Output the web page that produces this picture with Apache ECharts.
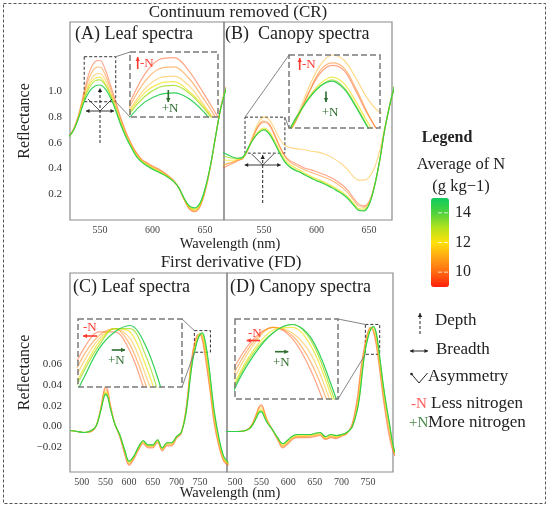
<!DOCTYPE html>
<html>
<head>
<meta charset="utf-8">
<script src="https://cdn.jsdelivr.net/npm/echarts@6/dist/echarts.min.js"></script>
<style>
  html, body { margin: 0; padding: 0; background: #fff; }
  #main { width: 550px; height: 507px; }
</style>
</head>
<body>
<div id="main"></div>
<script>
// average leaf N (g kg-1) of each drawn spectrum, low -> high
const N_LEVELS = [9.6, 10.4, 11.2, 12.2, 13.2, 14.6]

// continuum removed, wavelengths (nm)
const WL_CR = [510, 515, 520, 525, 530, 535, 540, 545, 550, 555, 560, 565, 570, 575, 580, 585, 590,
  595, 600, 605, 610, 615, 620, 625, 630, 635, 640, 645, 650, 655, 660, 665, 670, 675]

// (A) leaf spectra, CR
const A_N96 = [0.61, 0.62, 0.645, 0.71, 0.83, 1.00, 1.15, 1.23, 1.24, 1.17, 1.05, 0.92, 0.79, 0.68, 0.59, 0.52, 0.47,
  0.445, 0.42, 0.40, 0.375, 0.345, 0.31, 0.25, 0.16, 0.085, 0.065, 0.10, 0.22, 0.41, 0.65, 0.88, 1.03, 1.13]
const A_N104 = [0.61, 0.62, 0.645, 0.71, 0.82, 0.98, 1.11, 1.18, 1.19, 1.13, 1.02, 0.90, 0.78, 0.67, 0.585, 0.515, 0.465,
  0.44, 0.415, 0.395, 0.37, 0.34, 0.305, 0.25, 0.16, 0.09, 0.07, 0.105, 0.225, 0.41, 0.65, 0.88, 1.03, 1.13]
const A_N112 = [0.61, 0.62, 0.645, 0.70, 0.82, 0.96, 1.07, 1.13, 1.14, 1.09, 0.99, 0.88, 0.76, 0.66, 0.575, 0.505, 0.46,
  0.435, 0.41, 0.39, 0.365, 0.338, 0.305, 0.25, 0.165, 0.095, 0.075, 0.11, 0.23, 0.415, 0.65, 0.875, 1.025, 1.125]
const A_N122 = [0.61, 0.62, 0.645, 0.70, 0.81, 0.95, 1.05, 1.10, 1.11, 1.06, 0.98, 0.87, 0.75, 0.65, 0.57, 0.50, 0.455,
  0.43, 0.405, 0.385, 0.36, 0.335, 0.302, 0.25, 0.165, 0.10, 0.08, 0.115, 0.235, 0.415, 0.65, 0.875, 1.02, 1.12]
const A_N132 = [0.61, 0.62, 0.645, 0.70, 0.805, 0.94, 1.03, 1.08, 1.09, 1.05, 0.97, 0.865, 0.745, 0.645, 0.565, 0.495, 0.452,
  0.425, 0.40, 0.38, 0.358, 0.332, 0.30, 0.25, 0.168, 0.105, 0.088, 0.122, 0.24, 0.42, 0.65, 0.87, 1.02, 1.12]
const A_N146 = [0.61, 0.62, 0.645, 0.70, 0.80, 0.92, 1.00, 1.04, 1.05, 1.02, 0.95, 0.85, 0.735, 0.64, 0.56, 0.49, 0.448,
  0.42, 0.395, 0.375, 0.355, 0.33, 0.30, 0.25, 0.17, 0.11, 0.095, 0.13, 0.245, 0.42, 0.65, 0.87, 1.02, 1.12]

// (B) canopy spectra, CR
const B_N96 = [0.40, 0.42, 0.44, 0.46, 0.48, 0.55, 0.65, 0.73, 0.76, 0.74, 0.66, 0.57, 0.50, 0.46, 0.44, 0.42, 0.40,
  0.39, 0.375, 0.36, 0.345, 0.325, 0.30, 0.27, 0.23, 0.175, 0.125, 0.11, 0.14, 0.26, 0.45, 0.70, 0.90, 1.06]
const B_N104 = [0.42, 0.435, 0.45, 0.465, 0.48, 0.55, 0.65, 0.74, 0.77, 0.75, 0.67, 0.575, 0.495, 0.45, 0.425, 0.405, 0.385,
  0.37, 0.355, 0.34, 0.325, 0.305, 0.28, 0.25, 0.21, 0.16, 0.11, 0.10, 0.13, 0.255, 0.45, 0.70, 0.90, 1.06]
const B_N112 = [0.43, 0.44, 0.45, 0.47, 0.49, 0.56, 0.67, 0.76, 0.80, 0.78, 0.71, 0.63, 0.58, 0.565, 0.555, 0.55, 0.545,
  0.535, 0.53, 0.52, 0.505, 0.485, 0.46, 0.43, 0.39, 0.34, 0.31, 0.31, 0.33, 0.40, 0.53, 0.72, 0.90, 1.05]
const B_N122 = [0.47, 0.465, 0.465, 0.47, 0.485, 0.555, 0.635, 0.69, 0.715, 0.69, 0.62, 0.54, 0.47, 0.43, 0.405, 0.385, 0.36,
  0.34, 0.32, 0.305, 0.285, 0.265, 0.24, 0.215, 0.18, 0.135, 0.09, 0.085, 0.125, 0.255, 0.45, 0.70, 0.90, 1.06]
const B_N132 = [0.50, 0.49, 0.48, 0.48, 0.485, 0.555, 0.63, 0.68, 0.705, 0.675, 0.605, 0.525, 0.455, 0.415, 0.39, 0.372, 0.35,
  0.33, 0.31, 0.295, 0.275, 0.255, 0.23, 0.205, 0.17, 0.125, 0.08, 0.075, 0.12, 0.25, 0.45, 0.70, 0.90, 1.06]
const B_N146 = [0.53, 0.51, 0.49, 0.48, 0.49, 0.56, 0.63, 0.68, 0.70, 0.67, 0.60, 0.52, 0.45, 0.41, 0.385, 0.37, 0.345,
  0.325, 0.305, 0.29, 0.27, 0.25, 0.225, 0.20, 0.165, 0.12, 0.075, 0.07, 0.115, 0.25, 0.45, 0.70, 0.90, 1.06]

// first derivative, wavelengths (nm)
const WL_FD = [475, 490, 505, 520, 530, 540, 545, 550, 555, 560, 570, 580, 590, 600, 610, 620, 630, 640, 650, 660,
  670, 680, 690, 700, 710, 720, 730, 735, 740, 745, 750, 755, 760, 765, 770, 780, 790, 800, 810]

// (C) leaf spectra, FD
const C_N96 = [-0.004, -0.005, -0.006, -0.005, 0.000, 0.018, 0.031, 0.039, 0.035, 0.022, 0.002, -0.010, -0.026, -0.038, -0.032,
  -0.023, -0.017, -0.021, -0.021, -0.016, -0.024, -0.019, -0.019, -0.012, -0.007, 0.016, 0.058, 0.074, 0.084, 0.089,
  0.089, 0.083, 0.070, 0.054, 0.038, 0.002, -0.020, -0.034, -0.038]
const C_N104 = [-0.004, -0.005, -0.006, -0.005, 0.000, 0.017, 0.029, 0.037, 0.033, 0.021, 0.002, -0.009, -0.025, -0.037, -0.031,
  -0.022, -0.016, -0.020, -0.020, -0.015, -0.023, -0.018, -0.018, -0.011, -0.007, 0.015, 0.056, 0.072, 0.082, 0.088,
  0.090, 0.085, 0.073, 0.058, 0.041, 0.005, -0.018, -0.033, -0.037]
const C_N112 = [-0.004, -0.005, -0.006, -0.005, 0.000, 0.016, 0.027, 0.035, 0.031, 0.020, 0.002, -0.009, -0.024, -0.036, -0.030,
  -0.021, -0.015, -0.019, -0.019, -0.014, -0.022, -0.017, -0.017, -0.011, -0.006, 0.014, 0.054, 0.070, 0.080, 0.087,
  0.090, 0.087, 0.076, 0.062, 0.045, 0.008, -0.016, -0.032, -0.037]
const C_N122 = [-0.004, -0.005, -0.006, -0.004, 0.000, 0.016, 0.026, 0.033, 0.030, 0.019, 0.002, -0.008, -0.023, -0.035, -0.030,
  -0.021, -0.015, -0.019, -0.019, -0.014, -0.022, -0.017, -0.017, -0.010, -0.006, 0.013, 0.052, 0.068, 0.078, 0.086,
  0.090, 0.089, 0.079, 0.065, 0.048, 0.010, -0.014, -0.031, -0.036]
const C_N132 = [-0.004, -0.005, -0.006, -0.004, 0.000, 0.015, 0.025, 0.032, 0.029, 0.018, 0.002, -0.008, -0.022, -0.034, -0.029,
  -0.020, -0.014, -0.018, -0.018, -0.013, -0.021, -0.016, -0.016, -0.010, -0.006, 0.012, 0.051, 0.067, 0.077, 0.085,
  0.090, 0.090, 0.082, 0.068, 0.051, 0.013, -0.013, -0.030, -0.036]
const C_N146 = [-0.004, -0.005, -0.006, -0.004, 0.000, 0.015, 0.025, 0.031, 0.028, 0.018, 0.002, -0.008, -0.022, -0.034, -0.029,
  -0.020, -0.014, -0.018, -0.018, -0.013, -0.021, -0.016, -0.016, -0.010, -0.006, 0.012, 0.049, 0.065, 0.075, 0.084,
  0.089, 0.091, 0.085, 0.072, 0.055, 0.015, -0.011, -0.029, -0.035]

// (D) canopy spectra, FD
const D_N96 = [-0.005, -0.005, -0.005, -0.004, 0.000, 0.012, 0.019, 0.021, 0.015, 0.007, -0.003, -0.013, -0.021, -0.017, -0.012,
  -0.011, -0.011, -0.011, -0.010, -0.009, -0.013, -0.011, -0.012, -0.010, -0.007, 0.002, 0.028, 0.050, 0.068, 0.082,
  0.092, 0.096, 0.092, 0.080, 0.062, 0.022, -0.010, -0.028, -0.032]
const D_N104 = [-0.005, -0.005, -0.005, -0.004, 0.000, 0.011, 0.018, 0.020, 0.014, 0.006, -0.003, -0.012, -0.020, -0.016, -0.011,
  -0.010, -0.010, -0.010, -0.009, -0.008, -0.012, -0.010, -0.011, -0.009, -0.007, 0.001, 0.025, 0.046, 0.065, 0.080,
  0.091, 0.096, 0.093, 0.083, 0.066, 0.026, -0.006, -0.027, -0.031]
const D_N112 = [-0.005, -0.005, -0.005, -0.004, 0.000, 0.010, 0.017, 0.018, 0.013, 0.006, -0.003, -0.012, -0.019, -0.015, -0.011,
  -0.010, -0.010, -0.009, -0.009, -0.008, -0.012, -0.010, -0.010, -0.009, -0.007, 0.000, 0.022, 0.041, 0.062, 0.078,
  0.090, 0.096, 0.094, 0.086, 0.069, 0.029, -0.002, -0.026, -0.031]
const D_N122 = [-0.005, -0.005, -0.005, -0.004, -0.001, 0.009, 0.015, 0.016, 0.011, 0.005, -0.003, -0.011, -0.018, -0.014, -0.010,
  -0.009, -0.009, -0.009, -0.008, -0.007, -0.011, -0.009, -0.010, -0.009, -0.006, -0.001, 0.019, 0.036, 0.059, 0.076,
  0.088, 0.095, 0.096, 0.089, 0.072, 0.032, 0.001, -0.025, -0.030]
const D_N132 = [-0.005, -0.005, -0.005, -0.004, -0.001, 0.008, 0.014, 0.015, 0.010, 0.004, -0.003, -0.011, -0.017, -0.013, -0.009,
  -0.008, -0.008, -0.008, -0.007, -0.006, -0.010, -0.008, -0.009, -0.008, -0.006, -0.001, 0.017, 0.033, 0.057, 0.075,
  0.087, 0.094, 0.097, 0.091, 0.074, 0.034, 0.003, -0.024, -0.030]
const D_N146 = [-0.005, -0.005, -0.005, -0.004, -0.001, 0.008, 0.013, 0.014, 0.009, 0.004, -0.003, -0.011, -0.017, -0.013, -0.009,
  -0.008, -0.008, -0.008, -0.007, -0.006, -0.010, -0.008, -0.009, -0.008, -0.006, -0.001, 0.016, 0.032, 0.055, 0.074,
  0.086, 0.094, 0.097, 0.092, 0.076, 0.036, 0.004, -0.024, -0.030]

// tick labels
const CR_X_TICKS = [550, 600, 650]
const CR_Y_TICKS = [0.2, 0.4, 0.6, 0.8, 1.0]
const FD_X_TICKS = [500, 550, 600, 650, 700, 750]
const FD_Y_TICKS = [-0.02, 0, 0.02, 0.04, 0.06]
const BAR_TICKS = [14, 12, 10]

const FONT = '"Liberation Serif", "DejaVu Serif", serif'
const N_MIN = 9, N_MAX = 15
const N_COLORS = ['#ff1e0a', '#ff6a12', '#ffa514', '#ffe10a', '#b4e21e', '#4fd13c', '#0dcc5e']
const LINE_OPACITY = [0.5, 0.55, 0.5, 0.7, 0.8, 0.95]
const nColor = n => echarts.color.lerp((n - N_MIN) / (N_MAX - N_MIN), N_COLORS)

// panel layout: main grid, inset grid, axis ranges, zoom window [x1, x2, y1, y2]
const panels = [
  { grid: { left: 70, top: 22, width: 154, height: 198 }, x: [521.5, 668], y: [0, 1.54],
    inset: { left: 130, top: 52, width: 88, height: 65 }, zoom: [535, 565, 0.92, 1.27],
    wl: WL_CR, lines: [A_N96, A_N104, A_N112, A_N122, A_N132, A_N146], links: [['tr', 'tl'], ['br', 'bl']] },
  { grid: { left: 224, top: 22, width: 168, height: 198 }, x: [512, 672], y: [0, 1.54],
    inset: { left: 289, top: 55, width: 91, height: 73 }, zoom: [532, 570, 0.52, 0.80],
    wl: WL_CR, lines: [B_N96, B_N104, B_N112, B_N122, B_N132, B_N146], links: [['tl', 'tl'], ['tr', 'bl']] },
  { grid: { left: 70, top: 273, width: 157, height: 199 }, x: [475, 807], y: [-0.0444, 0.149],
    inset: { left: 78, top: 319, width: 104, height: 68 }, zoom: [738, 772, 0.072, 0.093],
    wl: WL_FD, lines: [C_N96, C_N104, C_N112, C_N122, C_N132, C_N146], links: [['tl', 'tr'], ['bl', 'br']] },
  { grid: { left: 227, top: 273, width: 166, height: 199 }, x: [485, 797], y: [-0.0444, 0.149],
    inset: { left: 235, top: 319, width: 103, height: 80 }, zoom: [745, 772, 0.070, 0.099],
    wl: WL_FD, lines: [D_N96, D_N104, D_N112, D_N122, D_N132, D_N146], links: [['tl', 'tr'], ['bl', 'br']] }
]

const grids = [], xAxes = [], yAxes = [], series = []

const lineSeries = (p, ys, li, axis, z, width) => ({
  type: 'line', xAxisIndex: axis, yAxisIndex: axis, z, silent: true, clip: true,
  data: p.wl.map((w, j) => [w, ys[j]]),
  showSymbol: false, smooth: 0.35,
  itemStyle: { color: nColor(N_LEVELS[li]) },
  lineStyle: { width, opacity: LINE_OPACITY[li], color: nColor(N_LEVELS[li]) }
})

panels.forEach((p, pi) => {
  grids.push(Object.assign({ show: true, borderColor: '#8c8c8c', borderWidth: 1.2, z: 1 }, p.grid))
  const isCR = pi < 2
  xAxes.push({
    type: 'value', gridIndex: pi, min: p.x[0], max: p.x[1],
    axisLine: { show: false }, axisTick: { show: false }, splitLine: { show: false },
    axisLabel: { customValues: isCR ? CR_X_TICKS : FD_X_TICKS, fontFamily: FONT, fontSize: 10, color: '#444', margin: 5 }
  })
  const showY = pi === 0 || pi === 2
  yAxes.push({
    type: 'value', gridIndex: pi, min: p.y[0], max: p.y[1],
    axisLine: { show: false }, axisTick: { show: false }, splitLine: { show: false },
    name: showY ? 'Reflectance' : '', nameLocation: 'middle', nameGap: 37,
    nameTextStyle: { fontFamily: FONT, fontSize: 16, color: '#222' },
    axisLabel: {
      show: showY, customValues: isCR ? CR_Y_TICKS : FD_Y_TICKS, fontFamily: FONT, fontSize: 11, color: '#333', margin: 8,
      formatter: v => isCR ? v.toFixed(1) : (v < 0 ? '\u2212' + Math.abs(v).toFixed(2) : v.toFixed(2))
    }
  })
  p.lines.forEach((ys, li) => {
    const s = lineSeries(p, ys, li, pi, 3, 1.1)
    if (li === 0) {
      s.markArea = {
        silent: true,
        itemStyle: { color: 'rgba(0,0,0,0)', borderColor: '#333', borderWidth: 1, borderType: [3, 2], opacity: 1 },
        data: [[{ coord: [p.zoom[0], p.zoom[3]] }, { coord: [p.zoom[1], p.zoom[2]] }]]
      }
    }
    series.push(s)
  })
})

// zoomed insets
panels.forEach((p, pi) => {
  const gi = pi + 4
  grids.push(Object.assign({ show: true, backgroundColor: '#fff', borderWidth: 0, z: 10 }, p.inset))
  xAxes.push({ type: 'value', gridIndex: gi, min: p.zoom[0], max: p.zoom[1], show: false })
  yAxes.push({ type: 'value', gridIndex: gi, min: p.zoom[2], max: p.zoom[3], show: false })
  p.lines.forEach((ys, li) => series.push(lineSeries(p, ys, li, gi, 12, 1.2)))
})

const option = {
  animation: false,
  textStyle: { fontFamily: FONT },
  grid: grids,
  xAxis: xAxes,
  yAxis: yAxes,
  // colour bar only: series carry their own N colour
  visualMap: {
    type: 'continuous', min: N_MIN, max: N_MAX, seriesIndex: [],
    left: 431, top: 198, itemWidth: 18, itemHeight: 89, padding: 0,
    calculable: false, inRange: { color: N_COLORS }
  },
  series
}

const chart = echarts.init(document.getElementById('main'))
chart.setOption(option)

// ---------- annotations ----------
const g = []
const txt = (text, x, y, size, color, align, bold) => g.push({
  type: 'text', x, y, z: 30, silent: true,
  style: { text, font: (bold ? 'bold ' : '') + size + 'px ' + FONT, fill: color || '#222',
    textAlign: align || 'left', textVerticalAlign: 'middle' }
})
const seg = (x1, y1, x2, y2, color, width, dash) => g.push({
  type: 'line', z: 25, silent: true, shape: { x1, y1, x2, y2 },
  style: { stroke: color || '#222', lineWidth: width || 1, lineDash: dash || null }
})
const head = (x, y, ang, color, s) => {
  s = s || 4
  const c = Math.cos(ang), sn = Math.sin(ang)
  g.push({
    type: 'polygon', z: 26, silent: true,
    shape: { points: [[x, y], [x - s * c + s * 0.55 * sn, y - s * sn - s * 0.55 * c], [x - s * c - s * 0.55 * sn, y - s * sn + s * 0.55 * c]] },
    style: { fill: color || '#222' }
  })
}
const arrow = (x1, y1, x2, y2, color, width, dash, both, s) => {
  seg(x1, y1, x2, y2, color, width, dash)
  head(x2, y2, Math.atan2(y2 - y1, x2 - x1), color, s)
  if (both) head(x1, y1, Math.atan2(y1 - y2, x1 - x2), color, s)
}

// outer dashed frame
g.push({ type: 'rect', z: 20, silent: true, shape: { x: 3.5, y: 3.5, width: 542, height: 500 },
  style: { fill: 'none', stroke: '#555', lineWidth: 1, lineDash: [3, 2] } })

// inset frames and connectors
panels.forEach((p, pi) => {
  const r = p.inset
  g.push({ type: 'rect', z: 20, silent: true, shape: { x: r.left, y: r.top, width: r.width, height: r.height },
    style: { fill: 'none', stroke: '#7a7a7a', lineWidth: 1.5, lineDash: [6, 3] } })
  const px = (x, y) => chart.convertToPixel({ xAxisIndex: pi, yAxisIndex: pi }, [x, y])
  const box = {
    tl: px(p.zoom[0], p.zoom[3]), tr: px(p.zoom[1], p.zoom[3]),
    bl: px(p.zoom[0], p.zoom[2]), br: px(p.zoom[1], p.zoom[2])
  }
  const ins = {
    tl: [r.left, r.top], tr: [r.left + r.width, r.top],
    bl: [r.left, r.top + r.height], br: [r.left + r.width, r.top + r.height]
  }
  p.links.forEach(([a, b]) => seg(box[a][0], box[a][1], ins[b][0], ins[b][1], '#777', 0.9))
})

// titles
txt('Continuum removed (CR)', 238, 13, 17, '#222', 'center')
txt('First derivative (FD)', 231, 263, 17, '#222', 'center')
txt('(A) Leaf spectra', 75, 34, 18)
txt('(B)  Canopy spectra', 225, 34, 18)
txt('(C) Leaf spectra', 73, 287, 18)
txt('(D) Canopy spectra', 230, 287, 18)
txt('Wavelength (nm)', 230, 244, 14.5, '#222', 'center')
txt('Wavelength (nm)', 230, 493, 14.5, '#222', 'center')

// depth / breadth / asymmetry marks on the CR panels
const feature = (cx, cy, top, bottom, half, vx, vy) => {
  arrow(cx, bottom, cx, top, '#222', 1, [3, 2], false, 4)
  arrow(cx - half, cy, cx + half, cy, '#222', 0.9, null, true, 3.5)
  seg(cx, cy, cx - vx, cy - vy, '#222', 0.8)
  seg(cx, cy, cx + vx, cy - vy, '#222', 0.8)
}
feature(100, 111, 88, 143, 14, 12, 12)
feature(262.7, 165, 155, 203, 18, 11, 11)

// -N / +N hints inside the insets
const RED = '#ff3b30', GREEN = '#2f6e2f'
arrow(137.7, 69, 137.7, 57, RED, 1.6, null, false, 4)
txt('-N', 140, 64, 13, RED)
arrow(168.3, 90, 168.3, 102, GREEN, 1.6, null, false, 4)
txt('+N', 170, 108.5, 13, GREEN, 'center')
arrow(299.7, 70, 299.7, 58, RED, 1.6, null, false, 4)
txt('-N', 302, 65, 13, RED)
arrow(326, 91.5, 326, 102, GREEN, 1.6, null, false, 4)
txt('+N', 330, 113, 13, GREEN, 'center')
arrow(97, 336, 83, 336, RED, 1.6, null, false, 4)
txt('-N', 83, 328, 13, RED)
arrow(111.7, 350, 125, 350, GREEN, 1.6, null, false, 4)
txt('+N', 108, 361, 13, GREEN)
arrow(260, 340.5, 246.7, 340.5, RED, 1.6, null, false, 4)
txt('-N', 248, 334, 13, RED)
arrow(275, 351.7, 288.3, 351.7, GREEN, 1.6, null, false, 4)
txt('+N', 273, 363, 13, GREEN)

// colour legend
txt('Legend', 447, 138, 16, '#222', 'center', true)
txt('Average of N', 461, 165, 16.5, '#222', 'center')
txt('(g kg\u22121)', 461, 187, 16.5, '#222', 'center')
BAR_TICKS.forEach(v => {
  const y = 198 + (N_MAX - v) / (N_MAX - N_MIN) * 89
  seg(438, y, 449, y, 'rgba(255,255,255,0.75)', 1, [4, 2])
  txt(String(v), 455, y, 16)
})

// symbol key
arrow(420, 334, 420, 313, '#222', 1, [3, 2], false, 4)
txt('Depth', 435, 321, 17)
arrow(410, 351, 428, 351, '#222', 1, null, true, 3.5)
txt('Breadth', 436, 350, 17)
seg(419, 383, 411.5, 374, '#222', 1)
seg(419, 383, 427.5, 373, '#222', 1)
g.push({ type: 'circle', z: 26, silent: true, shape: { cx: 411.5, cy: 374, r: 1.3 }, style: { fill: '#222' } })
txt('Asymmetry', 428, 377, 17)
txt('-N', 411, 404, 15, '#ff5a5a')
txt('Less nitrogen', 431, 404, 17)
txt('+N', 409, 423, 15, '#4a8a4a')
txt('More nitrogen', 428, 423, 17)

chart.setOption({ graphic: g })
</script>
</body>
</html>
